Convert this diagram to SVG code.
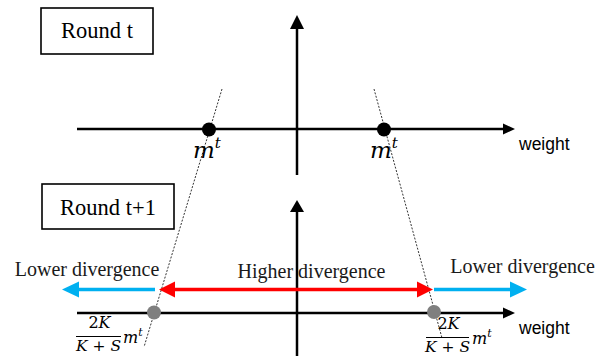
<svg xmlns="http://www.w3.org/2000/svg" width="611" height="356" viewBox="0 0 611 356">
<style>
.box{fill:#fff;stroke:#000;stroke-width:1.6}
.ttl{font-family:"Liberation Serif",serif;font-size:22.5px;fill:#000}
.lbl{font-family:"Liberation Serif",serif;font-size:20px;fill:#1a1a1a;text-anchor:middle}
.w{font-family:"Liberation Sans",Arial,sans-serif;font-size:17.5px;fill:#000}
.math{font-family:"DejaVu Serif",serif;font-style:italic;fill:#000}
.up{font-style:normal}
.axis{stroke:#000;stroke-width:2.5;fill:none}
.dash{stroke:#333;stroke-width:1;stroke-dasharray:2 1.5;fill:none}
.blue{stroke:#00B0F0;stroke-width:3.5;fill:none}
.red{stroke:#FF0000;stroke-width:3.5;fill:none}
</style>
<rect width="611" height="356" fill="#fff"/>

<g id="connectors">
  <line class="axis" x1="77" y1="129" x2="504" y2="129"/>
  <polygon points="515,129 503,123.5 503,134.5" fill="#000"/>
  <line class="axis" x1="297" y1="28" x2="297" y2="175"/>
  <polygon points="297,15 290,29 304,29" fill="#000"/>
  <line class="axis" x1="77" y1="313" x2="504" y2="313"/>
  <polygon points="515,313 503,307.5 503,318.5" fill="#000"/>
  <line class="axis" x1="297" y1="211" x2="297" y2="356"/>
  <polygon points="297,200 290,212 304,212" fill="#000"/>
  <line class="dash" x1="222" y1="89" x2="144" y2="347"/>
  <line class="dash" x1="374" y1="89" x2="442" y2="338"/>
  <line class="blue" x1="155" y1="289.5" x2="78" y2="289.5"/>
  <polygon points="62,289.5 79,281.5 79,297.5" fill="#00B0F0"/>
  <line class="red" x1="174" y1="289.5" x2="418" y2="289.5"/>
  <polygon points="159,289.5 175,281.5 175,297.5" fill="#FF0000"/>
  <polygon points="433,289.5 417,281.5 417,297.5" fill="#FF0000"/>
  <line class="blue" x1="434" y1="289.5" x2="511" y2="289.5"/>
  <polygon points="527,289.5 510,281.5 510,297.5" fill="#00B0F0"/>
</g>

<g id="round-t">
  <rect class="box" x="41" y="8" width="112" height="46"/>
  <text class="ttl" x="97" y="38" text-anchor="middle">Round t</text>
</g>

<g id="round-t1">
  <rect class="box" x="42" y="184" width="132" height="45"/>
  <text class="ttl" x="108" y="215" text-anchor="middle">Round t+1</text>
</g>

<g id="mt-left">
  <circle cx="209" cy="129.5" r="7" fill="#000"/>
  <text class="math" x="193" y="158" font-size="23">m<tspan font-size="15" dy="-10">t</tspan></text>
</g>

<g id="mt-right">
  <circle cx="384" cy="129.5" r="7" fill="#000"/>
  <text class="math" x="370" y="158" font-size="23">m<tspan font-size="15" dy="-10">t</tspan></text>
</g>

<g id="weight-top">
  <text class="w" x="519" y="150">weight</text>
</g>

<g id="weight-bottom">
  <text class="w" x="519" y="334">weight</text>
</g>

<g id="lower-left">
  <text class="lbl" x="87" y="276">Lower divergence</text>
</g>

<g id="higher">
  <text class="lbl" x="311.5" y="278">Higher divergence</text>
</g>

<g id="lower-right">
  <text class="lbl" x="522.5" y="273">Lower divergence</text>
</g>

<g id="frac-left">
  <circle cx="154" cy="312.5" r="7" fill="#7f7f7f"/>
  <text class="math" x="99.5" y="328" font-size="16" text-anchor="middle"><tspan class="up">2</tspan>K</text>
  <line x1="76" y1="336.5" x2="121" y2="336.5" stroke="#000" stroke-width="1"/>
  <text class="math" x="98.5" y="351" font-size="15.5" text-anchor="middle">K <tspan class="up">+</tspan> S</text>
  <text class="math" x="123" y="343" font-size="16">m<tspan font-size="11" dy="-7">t</tspan></text>
</g>

<g id="frac-right">
  <circle cx="434" cy="312" r="7" fill="#7f7f7f"/>
  <text class="math" x="448.5" y="329" font-size="16" text-anchor="middle"><tspan class="up">2</tspan>K</text>
  <line x1="426" y1="337.5" x2="469" y2="337.5" stroke="#000" stroke-width="1"/>
  <text class="math" x="447.5" y="351.5" font-size="15.5" text-anchor="middle">K <tspan class="up">+</tspan> S</text>
  <text class="math" x="472" y="344" font-size="16">m<tspan font-size="11" dy="-7">t</tspan></text>
</g>
</svg>
